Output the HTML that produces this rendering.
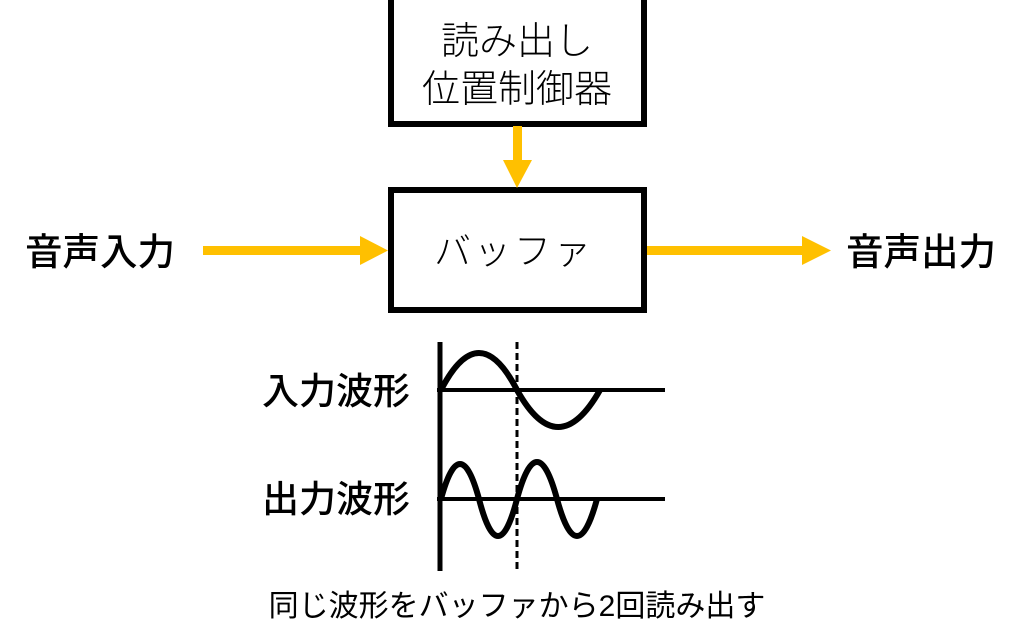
<!DOCTYPE html>
<html><head><meta charset="utf-8"><style>
html,body{margin:0;padding:0;background:#fff;}
svg{display:block;}
text{font-family:"Liberation Sans","Noto Sans CJK JP",sans-serif;fill:#000;}
</style></head><body>
<svg width="1024" height="642" viewBox="0 0 1024 642" xmlns="http://www.w3.org/2000/svg">
<rect x="391" y="-4" width="253" height="128" fill="#fff" stroke="#000" stroke-width="6"/>
<text x="517" y="54" font-size="38" text-anchor="middle" font-weight="300">読み出し</text>
<text x="517" y="102" font-size="38" text-anchor="middle" font-weight="300">位置制御器</text>
<rect x="391" y="190" width="253" height="120" fill="#fff" stroke="#000" stroke-width="6"/>
<text x="514" y="264" font-size="37" text-anchor="middle" font-weight="300" letter-spacing="3">バッファ</text>
<!-- arrows -->
<rect x="513" y="126" width="9" height="36" fill="#FFC000"/>
<polygon points="503,160 532,160 517,188" fill="#FFC000"/>
<rect x="203" y="246" width="160" height="9" fill="#FFC000"/>
<polygon points="360,236 388,250.5 360,265" fill="#FFC000"/>
<rect x="647" y="246" width="158" height="9" fill="#FFC000"/>
<polygon points="802,236 831,250.5 802,265" fill="#FFC000"/>
<text x="25" y="265" font-size="37.5" font-weight="500">音声入力</text>
<text x="846" y="265" font-size="37.5" font-weight="500">音声出力</text>
<text x="262" y="404" font-size="37" font-weight="500">入力波形</text>
<text x="262" y="512" font-size="37" font-weight="500">出力波形</text>
<!-- axes -->
<line x1="440" y1="342" x2="440" y2="571" stroke="#000" stroke-width="5"/>
<line x1="437" y1="390" x2="665" y2="390" stroke="#000" stroke-width="4"/>
<line x1="437" y1="499" x2="665" y2="499" stroke="#000" stroke-width="4"/>
<line x1="517" y1="342" x2="517" y2="571" stroke="#000" stroke-width="3" stroke-dasharray="7,4"/>
<path d="M441,390 Q479,316 517,390 Q558,464 600,390" fill="none" stroke="#000" stroke-width="6"/>
<path d="M441,499 Q460,429 479,499 Q498,573 517,499 Q537,425 557,499 Q577,573 597,499" fill="none" stroke="#000" stroke-width="6"/>
<text x="517" y="616" font-size="30" text-anchor="middle">同じ波形をバッファから2回読み出す</text>
</svg>
</body></html>
